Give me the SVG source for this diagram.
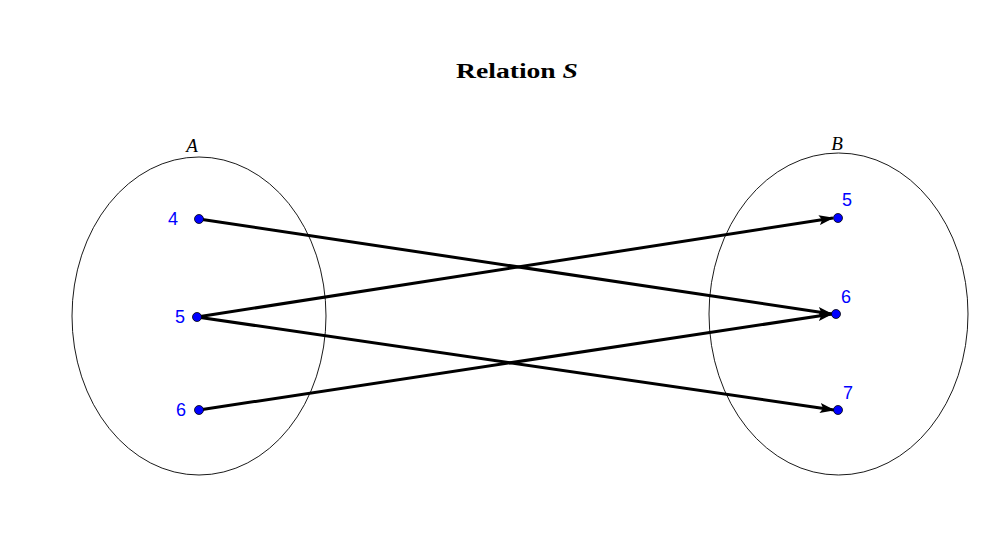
<svg xmlns="http://www.w3.org/2000/svg" width="997" height="535" viewBox="0 0 997 535">
<style>
.set{fill:none;stroke:#000;stroke-width:0.9}
.pt{fill:#0000ff;stroke:#000;stroke-width:0.8}
.lbl{font-family:"Liberation Sans",Arial,sans-serif;font-size:18px;fill:#0000ff}
.name{font-family:"Liberation Serif","Times New Roman",serif;font-style:italic;font-size:19px;fill:#000}
.edge{stroke:#000;stroke-width:3;fill:none}
</style>
<defs>
<marker id="ah" markerUnits="userSpaceOnUse" markerWidth="16" markerHeight="10" refX="14" refY="5" orient="auto">
<path d="M0,0 L15,5 L0,10 L3,5 Z" fill="#000"/>
</marker>
</defs>
<rect width="997" height="535" fill="#fff"/>
<text x="456" y="78" textLength="122" lengthAdjust="spacingAndGlyphs" font-family="'Liberation Serif','Times New Roman',serif" font-size="20" font-weight="bold">Relation <tspan font-style="italic">S</tspan></text>
<g id="setA">
<ellipse class="set" cx="199" cy="316" rx="127" ry="159"/>
<text class="name" x="192" y="152" text-anchor="middle">A</text>
</g>
<g id="setB">
<ellipse class="set" cx="838.5" cy="314" rx="129.5" ry="161"/>
<text class="name" x="837" y="150" text-anchor="middle">B</text>
</g>
<g id="connectors">
<line class="edge" x1="199" y1="219" x2="832" y2="314" marker-end="url(#ah)"/>
<line class="edge" x1="197" y1="317" x2="833" y2="218" marker-end="url(#ah)"/>
<line class="edge" x1="197" y1="317" x2="834" y2="410" marker-end="url(#ah)"/>
<line class="edge" x1="199" y1="410" x2="832" y2="314" marker-end="url(#ah)"/>
</g>
<g id="a4"><circle class="pt" cx="199" cy="219" r="4.5"/><text class="lbl" x="178" y="225" text-anchor="end">4</text></g>
<g id="a5"><circle class="pt" cx="197" cy="317" r="4.5"/><text class="lbl" x="185" y="323" text-anchor="end">5</text></g>
<g id="a6"><circle class="pt" cx="199" cy="410" r="4.5"/><text class="lbl" x="186" y="416" text-anchor="end">6</text></g>
<g id="b5"><circle class="pt" cx="838" cy="218" r="4.5"/><text class="lbl" x="842" y="206">5</text></g>
<g id="b6"><circle class="pt" cx="836" cy="314" r="4.5"/><text class="lbl" x="841" y="303">6</text></g>
<g id="b7"><circle class="pt" cx="838" cy="410" r="4.5"/><text class="lbl" x="843" y="399">7</text></g>
</svg>
